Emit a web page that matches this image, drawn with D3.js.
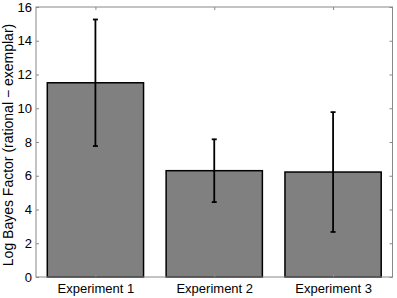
<!DOCTYPE html>
<html><head><meta charset="utf-8">
<script src="https://cdn.jsdelivr.net/npm/d3@7"></script>
<style>body{margin:0;background:#fff;} text{font-family:"Liberation Sans",Arial,sans-serif;}</style>
</head><body>
<svg id="c" width="397" height="298"></svg>
<script>
const categories = ["Experiment 1", "Experiment 2", "Experiment 3"];
const values = [11.51, 6.30, 6.22];
const errors = [3.75, 1.86, 3.55];
const yTicks = [0, 2, 4, 6, 8, 10, 12, 14, 16];
const yLabel = "Log Bayes Factor (rational \u2212 exemplar)";

const svg = d3.select("#c");
const L = 36, R = 392.5, T = 7, B = 277;
const x = d3.scaleLinear().domain([0.5, 3.5]).range([L, R]);
const y = d3.scaleLinear().domain([0, 16]).range([B, T]);
const axisColor = "#888";
const half = 0.405;

// bars
svg.selectAll("rect.bar").data(values).enter().append("rect")
  .attr("x", (d, i) => x(i + 1 - half))
  .attr("width", x(1 + 2 * half) - x(1))
  .attr("y", d => y(d))
  .attr("height", d => y(0) - y(d))
  .attr("fill", "#808080").attr("stroke", "#000").attr("stroke-width", 1.5);

// axes box
svg.append("rect").attr("x", L).attr("y", T).attr("width", R - L).attr("height", B - T)
  .attr("fill", "none").attr("stroke", axisColor).attr("stroke-width", 1);

// y ticks left and right
const yAxisL = d3.axisLeft(y).tickValues(yTicks).tickSize(-3).tickPadding(4);
const gL = svg.append("g").attr("transform", `translate(${L},0)`).call(yAxisL);
gL.select(".domain").remove();
gL.selectAll("line").attr("stroke", axisColor);
gL.selectAll("text").attr("font-size", 13).attr("fill", "#000");

const yAxisR = d3.axisRight(y).tickValues(yTicks).tickSize(-3).tickFormat("");
const gR = svg.append("g").attr("transform", `translate(${R},0)`).call(yAxisR);
gR.select(".domain").remove();
gR.selectAll("line").attr("stroke", axisColor);

// x ticks
const xAxisB = d3.axisBottom(x).tickValues([1, 2, 3]).tickSize(-3).tickPadding(6.5)
  .tickFormat((d) => categories[d - 1]);
const gB = svg.append("g").attr("transform", `translate(0,${B})`).call(xAxisB);
gB.select(".domain").remove();
gB.selectAll("line").attr("stroke", axisColor);
gB.selectAll("text").attr("font-size", 13).attr("fill", "#000");

const xAxisT = d3.axisTop(x).tickValues([1, 2, 3]).tickSize(-3).tickFormat("");
const gT = svg.append("g").attr("transform", `translate(0,${T})`).call(xAxisT);
gT.select(".domain").remove();
gT.selectAll("line").attr("stroke", axisColor);

// error bars
const eg = svg.append("g").attr("stroke", "#000").attr("stroke-width", 1.8);
values.forEach((v, i) => {
  const cx = x(i + 1);
  eg.append("line").attr("x1", cx).attr("x2", cx).attr("y1", y(v - errors[i])).attr("y2", y(v + errors[i]));
  [v - errors[i], v + errors[i]].forEach(e => {
    eg.append("line").attr("x1", cx - 2.5).attr("x2", cx + 2.5).attr("y1", y(e)).attr("y2", y(e));
  });
});

// y label
svg.append("text").attr("transform", `translate(13,${(T + B) / 2 + 3}) rotate(-90)`)
  .attr("text-anchor", "middle").attr("font-size", 14).attr("fill", "#000").text(yLabel);
</script>
</body></html>
